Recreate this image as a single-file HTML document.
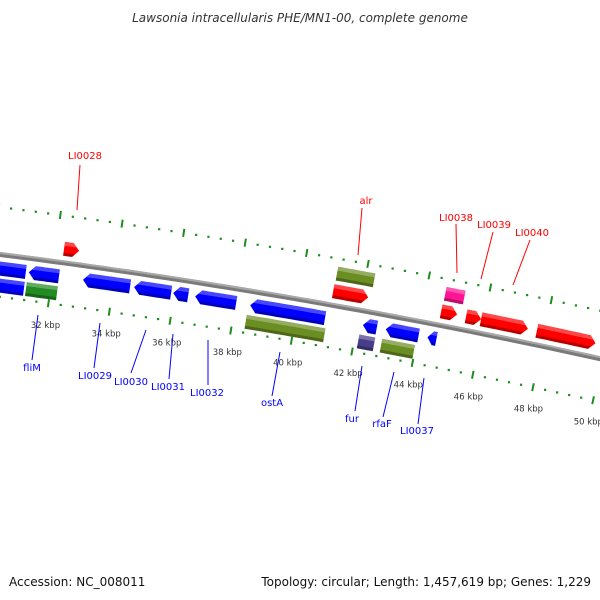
<!DOCTYPE html>
<html><head><meta charset="utf-8"><style>
body{margin:0;background:#fff}
svg{display:block;font-family:"DejaVu Sans","Liberation Sans",sans-serif}
</style></head><body>
<svg id="map" width="600" height="600" viewBox="0 0 600 600" xmlns="http://www.w3.org/2000/svg">
<defs>
<linearGradient id="shade" x1="0" y1="0" x2="0" y2="1"><stop offset="0" stop-color="#fff" stop-opacity="0.35"/><stop offset="0.3" stop-color="#fff" stop-opacity="0"/><stop offset="0.75" stop-color="#000" stop-opacity="0"/><stop offset="1" stop-color="#000" stop-opacity="0.3"/></linearGradient>
</defs>
<text x="300" y="22" text-anchor="middle" font-size="12" font-style="italic" fill="#333">Lawsonia intracellularis PHE/MN1-00, complete genome</text>
<g id="ticks"></g>
<g id="backbone"></g>
<g id="genes"></g>
<g id="labels"></g>
<text x="9" y="586" font-size="12" fill="#111">Accession: NC_008011</text>
<text x="591" y="586" text-anchor="end" font-size="12" fill="#111">Topology: circular; Length: 1,457,619 bp; Genes: 1,229</text>
</svg>
<script>
const geneStart = [28500,31236,33007,34680,35959,36681,38485,42191,42945,44323, 28500,31213,38429,42135,42890, 32262,41053,44595,45415,45907,47744, 41072,44615];
const geneEnd   = [31137,32220,34549,35893,36451,38025,40945,42650,44028,44618, 31147,32230,41020,42660,43972, 32754,42201,45120,45907,47449,49679, 42286,45238];
const geneStrand= [-1,-1,-1,-1,-1,-1,-1,-1,-1,-1, -1,0,0,0,0, 1,1,1,1,1,1, 0,0];
const geneTrack = [2,2,2,2,2,2,2,2,2,2, 3,3,3,3,3, 1,1,1,1,1,1, 0,0];
const geneColor = ["blue","blue","blue","blue","blue","blue","blue","blue","blue","blue","blue","green","olive","purple","olive","red","red","red","red","red","red","olive","pink"];
const tickKbp = [30,32,34,36,38,40,42,44,46,48,50,52];
const tickLabels = ["30 kbp","32 kbp","34 kbp","36 kbp","38 kbp","40 kbp","42 kbp","44 kbp","46 kbp","48 kbp","50 kbp","52 kbp"];

const CX=-844, CY=6890;
const trackR=[6721,6703,6675,6658];
const colors={blue:"#0000ff",red:"#ff0000",olive:"#6b8e23",green:"#228b22",purple:"#483d8b",pink:"#ff1493"};
const NS="http://www.w3.org/2000/svg";
function ang(bp){return (7.716+(bp-32000)*0.000265)*Math.PI/180;}
function pt(r,bp){const a=ang(bp);return [CX+r*Math.sin(a),CY-r*Math.cos(a)];}
function mk(tag,attrs,parent){const e=document.createElementNS(NS,tag);for(const k in attrs)e.setAttribute(k,attrs[k]);parent.appendChild(e);return e;}
function arc(r,b0,b1,n){const p=[];for(let i=0;i<=n;i++)p.push(pt(r,b0+(b1-b0)*i/n));return p;}
function ps(p){return p.map(q=>q[0].toFixed(1)+","+q[1].toFixed(1)).join(" ");}

// backbone
const bb=document.getElementById('backbone');
const b1=mk('polyline',{points:ps(arc(6689,28000,52000,60)),fill:"none",stroke:"#7a7a7a","stroke-width":5},bb);


const b2=mk('polyline',{points:ps(arc(6690.5,28000,52000,60)),fill:"none",stroke:"#a8a8a8","stroke-width":2},bb);



// ticks
const tg=document.getElementById('ticks');
[6736,6647].forEach(function(r,ri){
  for(let bp=28000;bp<=52000;bp+=400){
    if(bp%2000===0){
      const p0=pt(r-4,bp),p1=pt(r+4,bp);
      const t=mk('line',{x1:p0[0],y1:p0[1],x2:p1[0],y2:p1[1],stroke:"#1f8c1f","stroke-width":2},tg);
      
      
    } else {
      const p=pt(r,bp);
      const d=mk('rect',{x:p[0]-1,y:p[1]-1,width:2.2,height:2.2,fill:"#1f8c1f"},tg);
      
      
    }
  }
});
tickKbp.forEach(function(k,i){
  const p=pt(6625,k*1000);
  const t=mk('text',{x:p[0],y:p[1]+3,"text-anchor":"middle","font-size":"8.5",fill:"#333"},tg);
  t.textContent=tickLabels[i];
  
  
});

// genes
const gg=document.getElementById('genes');
const H=7, HEAD=200;
geneStart.forEach(function(s,i){
  const e=geneEnd[i], r=trackR[geneTrack[i]], st=geneStrand[i];
  const h=Math.min(HEAD,(e-s)*0.6);
  let pts;
  if(st===1){pts=arc(r+H,s,e-h,10).concat([pt(r,e)]).concat(arc(r-H,e-h,s,10));}
  else if(st===-1){pts=[pt(r,s)].concat(arc(r+H,s+h,e,10)).concat(arc(r-H,e,s+h,10));}
  else {pts=arc(r+H,s,e,10).concat(arc(r-H,e,s,10));}
  const g=mk('polygon',{points:ps(pts),fill:colors[geneColor[i]]},gg);
  
  
  // top highlight band
  const top=st===1?arc(r+H,s,e-h,10).concat(arc(r+H-4,e-h*0.45,s,10)):st===-1?arc(r+H,s+h,e,10).concat(arc(r+H-4,e,s+h*0.45,10)):arc(r+H,s,e,10).concat(arc(r+H-4,e,s,10));
  const hl=mk('polygon',{points:ps(top),fill:"#fff","fill-opacity":"0.28"},gg);
  
  
  const bot=st===1?arc(r-H,s,e-h,10).concat(arc(r-H+3,e-h*0.6,s,10)):st===-1?arc(r-H,s+h,e,10).concat(arc(r-H+3,e,s+h*0.6,10)):arc(r-H,s,e,10).concat(arc(r-H+3,e,s,10));
  const sh=mk('polygon',{points:ps(bot),fill:"#000","fill-opacity":"0.28"},gg);
  
  
});

// labels
const labelText=["LI0028","alr","LI0038","LI0039","LI0040","fliM","LI0029","LI0030","LI0031","LI0032","ostA","fur","rfaF","LI0037"];
const labelX=[85,366,456,494,532,32,95,131,168,207,272,352,382,417];
const labelY=[159,204,221,228,236,371,379,385,390,396,406,422,427,434];
const lineCoords=[[80,165,77,210],[362,208,358,255],[456,224,457,273],[493,232,481,279],[530,240,513,285],[38,315,32,360],[100,323,94,368],[146,330,131,373],[173,334,169,379],[208,340,208,385],[280,352,272,396],[362,366,355,411],[394,372,383,417],[424,378,418,424]];
const lg=document.getElementById('labels');
labelText.forEach(function(t,i){
  const col=i<5?"#ff0000":"#0000ff";
  const c=lineCoords[i];
  const l=mk('line',{x1:c[0],y1:c[1],x2:c[2],y2:c[3],stroke:col,"stroke-width":1},lg);
  
  
  const tx=mk('text',{x:labelX[i],y:labelY[i],"text-anchor":"middle","font-size":"10",fill:col},lg);
  tx.textContent=t;
  
  
});
</script>
</body></html>
